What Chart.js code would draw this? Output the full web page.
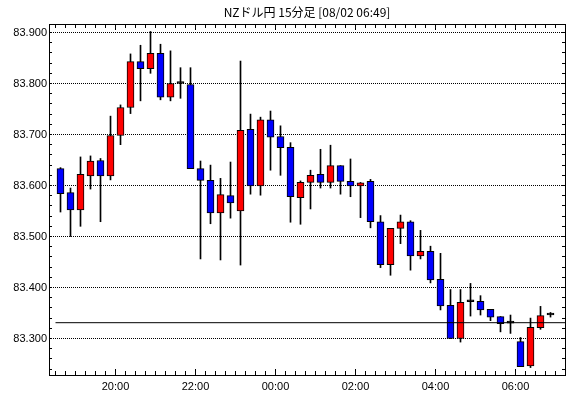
<!DOCTYPE html>
<html>
<head>
<meta charset="utf-8">
<script src="https://cdn.jsdelivr.net/npm/chart.js@4"></script>
<style>
  html, body { margin: 0; padding: 0; background: #fff; }
</style>
</head>
<body>
<canvas id="chart" width="570" height="398"></canvas>
<script>
// 15-minute candles, NZD/JPY
const times = [
  '18:30', '18:45', '19:00', '19:15', '19:30', '19:45', '20:00', '20:15', '20:30', '20:45',
  '21:00', '21:15', '21:30', '21:45', '22:00', '22:15', '22:30', '22:45', '23:00', '23:15',
  '23:30', '23:45', '00:00', '00:15', '00:30', '00:45', '01:00', '01:15', '01:30', '01:45',
  '02:00', '02:15', '02:30', '02:45', '03:00', '03:15', '03:30', '03:45', '04:00', '04:15',
  '04:30', '04:45', '05:00', '05:15', '05:30', '05:45', '06:00', '06:15', '06:30', '06:45'
];
const opens = [
  83.633, 83.586, 83.552, 83.619, 83.649, 83.619, 83.698, 83.753, 83.843, 83.829,
  83.859, 83.773, 83.800, 83.798, 83.633, 83.610, 83.546, 83.580, 83.550, 83.710,
  83.599, 83.729, 83.696, 83.675, 83.576, 83.606, 83.622, 83.606, 83.639, 83.608,
  83.599, 83.608, 83.529, 83.445, 83.516, 83.529, 83.462, 83.471, 83.416, 83.365,
  83.300, 83.372, 83.373, 83.357, 83.343, 83.330, 83.294, 83.246, 83.321, 83.346
];
const highs = [
  83.635, 83.595, 83.656, 83.658, 83.653, 83.736, 83.758, 83.858, 83.875, 83.902,
  83.877, 83.864, 83.831, 83.831, 83.648, 83.640, 83.614, 83.646, 83.844, 83.740,
  83.734, 83.746, 83.717, 83.684, 83.609, 83.630, 83.671, 83.679, 83.639, 83.652,
  83.606, 83.612, 83.541, 83.516, 83.542, 83.531, 83.512, 83.481, 83.467, 83.396,
  83.396, 83.408, 83.384, 83.357, 83.343, 83.346, 83.302, 83.340, 83.363, 83.351
];
const lows = [
  83.548, 83.500, 83.520, 83.593, 83.529, 83.611, 83.680, 83.741, 83.766, 83.820,
  83.768, 83.766, 83.771, 83.633, 83.456, 83.525, 83.454, 83.536, 83.444, 83.583,
  83.581, 83.630, 83.620, 83.528, 83.524, 83.554, 83.595, 83.595, 83.583, 83.578,
  83.537, 83.517, 83.439, 83.424, 83.486, 83.434, 83.456, 83.409, 83.356, 83.300,
  83.293, 83.344, 83.346, 83.335, 83.313, 83.310, 83.245, 83.243, 83.318, 83.342
];
const closes = [
  83.584, 83.552, 83.622, 83.648, 83.619, 83.698, 83.753, 83.843, 83.829, 83.859,
  83.773, 83.800, 83.800, 83.633, 83.610, 83.546, 83.582, 83.566, 83.708, 83.599,
  83.729, 83.695, 83.674, 83.578, 83.606, 83.620, 83.606, 83.639, 83.608, 83.599,
  83.605, 83.529, 83.445, 83.516, 83.529, 83.462, 83.471, 83.415, 83.364, 83.300,
  83.371, 83.372, 83.356, 83.342, 83.329, 83.330, 83.245, 83.322, 83.345, 83.346
];
const refPrice = 83.331;

const X_MIN = 1100.25;   // minutes since 00:00 of first day
const X_MAX = 1874.25;
const Y_MIN = 83.228431;
const Y_MAX = 83.916667;

const UP = '#ff0000';
const DOWN = '#0000ff';

function toMinutes(s) {
    const [h, m] = s.split(':').map(Number);
    return (h < 12 ? h + 24 : h) * 60 + m;
}

// centre of each 15-minute bar
const xs = times.map(t => toMinutes(t) + 7.5);

const bodies = xs.map((x, i) => ({ x, y: [opens[i], closes[i]] }));
const wicks = xs.map((x, i) => ({ x, y: [lows[i], highs[i]] }));
const bodyColors = opens.map((o, i) => closes[i] > o ? UP : closes[i] < o ? DOWN : '#000');

function fmtTime(v) {
    const h = Math.floor(v / 60) % 24;
    const m = v % 60;
    return `${String(h).padStart(2, '0')}:${String(m).padStart(2, '0')}`;
}

const isMajorY = v => Math.abs(v * 10 - Math.round(v * 10)) < 1e-6;

// inward tick marks + frame, like the original terminal chart
const frameTicks = {
    id: 'frameTicks',
    afterDraw(chart) {
        const { ctx, chartArea: a, scales: { x, y } } = chart;
        ctx.save();
        ctx.strokeStyle = '#000';
        ctx.lineWidth = 1;
        ctx.beginPath();
        x.ticks.forEach(t => {
            const px = Math.floor(x.getPixelForValue(t.value)) + 0.5;
            const len = t.value % 120 === 0 ? 6 : 4;
            ctx.moveTo(px, a.top);
            ctx.lineTo(px, a.top + len);
            ctx.moveTo(px, a.bottom);
            ctx.lineTo(px, a.bottom - len);
        });
        y.ticks.forEach(t => {
            const py = Math.floor(y.getPixelForValue(t.value)) + 0.5;
            ctx.moveTo(a.left, py);
            ctx.lineTo(a.left + 3, py);
            ctx.moveTo(a.right, py);
            ctx.lineTo(a.right - 3, py);
        });
        ctx.stroke();
        ctx.strokeRect(a.left + 0.5, a.top + 0.5, a.right - a.left, a.bottom - a.top);
        ctx.restore();
    }
};

new Chart(document.getElementById('chart'), {
    type: 'bar',
    data: {
        datasets: [
            {
                type: 'line',
                data: [{ x: xs[0] - 7.5, y: refPrice }, { x: X_MAX, y: refPrice }],
                borderColor: '#000',
                borderWidth: 1,
                pointRadius: 0,
                order: 1
            },
            {
                data: bodies,
                backgroundColor: bodyColors,
                borderColor: '#000',
                borderWidth: 1,
                borderSkipped: false,
                barThickness: 7,
                minBarLength: 2,
                grouped: false,
                order: 2
            },
            {
                data: wicks,
                backgroundColor: '#000',
                borderWidth: 0,
                barThickness: 1,
                grouped: false,
                order: 3
            }
        ]
    },
    options: {
        responsive: false,
        animation: false,
        layout: { padding: { left: 0, right: 5, top: 0, bottom: 0 } },
        plugins: {
            legend: { display: false },
            tooltip: { enabled: false },
            title: {
                display: true,
                text: 'NZドル円 15分足 [08/02 06:49]',
                fullSize: false,
                color: '#000',
                font: { family: '"Noto Sans CJK JP", "Liberation Sans", sans-serif', size: 12, weight: 'normal' },
                padding: { top: 5, bottom: 4.6 }
            }
        },
        scales: {
            x: {
                type: 'linear',
                min: X_MIN,
                max: X_MAX,
                offset: false,
                grid: { display: false, offset: false, drawTicks: false, tickLength: 0 },
                border: { display: false },
                ticks: {
                    stepSize: 15,
                    includeBounds: false,
                    autoSkip: false,
                    maxRotation: 0,
                    padding: 5,
                    color: '#000',
                    font: { family: '"Liberation Sans", Arial, sans-serif', size: 11 },
                    callback: v => v % 120 === 0 ? fmtTime(v) : ''
                },
                afterFit: s => { s.height = 23; }
            },
            y: {
                type: 'linear',
                min: Y_MIN,
                max: Y_MAX,
                grid: {
                    drawTicks: false,
                    tickLength: 0,
                    color: c => isMajorY(c.tick.value) ? '#000' : 'rgba(0,0,0,0)',
                    lineWidth: 1
                },
                border: { display: false, dash: [1, 1] },
                ticks: {
                    stepSize: 0.02,
                    includeBounds: false,
                    autoSkip: false,
                    padding: 2,
                    color: '#000',
                    font: { family: '"Liberation Sans", Arial, sans-serif', size: 11 },
                    callback: v => isMajorY(v) ? v.toFixed(3) : ''
                },
                afterFit: s => { s.width = 49; }
            }
        }
    },
    plugins: [frameTicks]
});
</script>
</body>
</html>
